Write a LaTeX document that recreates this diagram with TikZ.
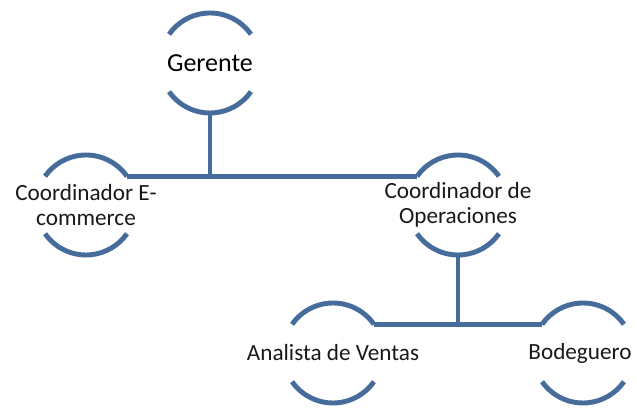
\documentclass[tikz,border=0pt]{standalone}
\usepackage{fontspec}
\setmainfont{Carlito}
\usetikzlibrary{calc}
\definecolor{orgblue}{RGB}{70,108,156}
\definecolor{orgtext}{RGB}{25,25,25}
\tikzset{
  ring/.style={align=center, inner sep=0pt, text=orgtext, font=\fontsize{16.5}{18}\selectfont},
  arcline/.style={draw=orgblue, line width=3.5pt},
}
\begin{document}
\begin{tikzpicture}
\useasboundingbox (0,0) rectangle (15.925,10.25);
\node[ring, text=black, font=\fontsize{18.5}{20}\selectfont] (G) at (5.25,8.675) {Gerente};
\node[ring] (CE) at (2.15,5.125) {Coordinador E-\\commerce};
\node[ring] (CO) at (11.45,5.125) {Coordinador de\\Operaciones};
\node[ring] (AV) at (8.325,1.425) {Analista de Ventas};
\node[ring] (BO) at (14.5,1.425) {Bodeguero};
% arcs above and below each title
\foreach \n/\x in {G/0,CE/0,CO/0,AV/0,BO/0.075} {
  \coordinate (\n-c) at ($(\n)+(\x,0)$);
  \coordinate (\n-r) at ($(\n-c)+(35:1.25)$);
  \coordinate (\n-l) at ($(\n-c)+(145:1.25)$);
  \coordinate (\n-b) at ($(\n-c)+(270:1.25)$);
  \draw[arcline] (\n-r) arc (35:145:1.25);
  \draw[arcline] ($(\n-c)+(215:1.25)$) arc (215:325:1.25);
}
\draw[arcline] (CE-r) -- (CO-l);
\draw[arcline] (G-b) -- (G-b |- CE-r);
\draw[arcline] (AV-r) -- (BO-l);
\draw[arcline] (CO-b) -- (CO-b |- AV-r);
\end{tikzpicture}
\end{document}
